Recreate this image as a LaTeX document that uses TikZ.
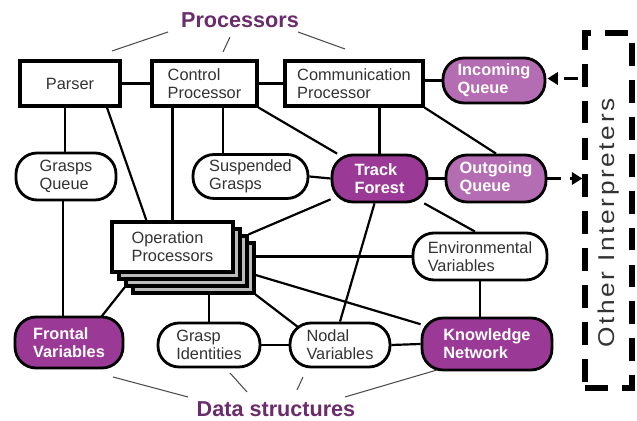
\documentclass[tikz,border=0pt]{standalone}
\usepackage{fontspec}
\setmainfont{Liberation Sans}
\newfontfamily\sidefont[LetterSpace=10]{Liberation Sans}
\usetikzlibrary{calc,backgrounds,arrows.meta}

\definecolor{deeppurple}{HTML}{9B3A96}
\definecolor{softpurple}{HTML}{B46CB2}
\definecolor{titlepurple}{HTML}{6A2C6A}
\definecolor{inktext}{HTML}{333333}
\definecolor{stackgray}{HTML}{BBBBBB}

\tikzset{
  procbox/.style={draw=black, line width=1.8pt, fill=white, align=left,
    inner sep=1pt, text=inktext, font=\fontsize{9.3}{10.4}\selectfont},
  storepill/.style={draw=black, line width=1.6pt, fill=white, align=left,
    rounded corners=12pt, inner sep=1pt, text=inktext,
    font=\fontsize{9.3}{10.4}\selectfont},
  hotpill/.style={storepill, fill=deeppurple, text=white,
    font=\bfseries\fontsize{9.3}{10.4}\selectfont},
  queuepill/.style={hotpill, fill=softpurple},
  link/.style={line width=1.25pt, draw=black},
  pointer/.style={line width=0.6pt, draw=black!70},
  grouptitle/.style={text=titlepurple, font=\bfseries\fontsize{12.3}{14}\selectfont},
  remote/.style={draw=black, line width=3pt, dash pattern=on 13pt off 8pt},
  feed/.style={line width=2pt, dash pattern=on 8pt off 5pt,
    -{Triangle[length=6pt,width=7pt]}},
}

\begin{document}
\begin{tikzpicture}[x=0.02cm, y=-0.02cm]
\useasboundingbox (0,0) rectangle (637,421);

% processors
\node[procbox, minimum width=2cm, minimum height=0.9cm] (parser) at (70,83.5) {Parser};
\node[procbox, minimum width=2.1cm, minimum height=0.9cm] (cp) at (204.5,83.5) {Control\\Processor};
\node[procbox, minimum width=2.76cm, minimum height=0.9cm] (comm) at (354,83.5) {Communication\\Processor};

% stacked operation processors
\node[procbox, fill=stackgray, minimum width=2.42cm, minimum height=1cm] (op3) at (193.5,268) {};
\node[procbox, fill=stackgray, minimum width=2.42cm, minimum height=1cm] (op2) at (186.5,261) {};
\node[procbox, fill=stackgray, minimum width=2.42cm, minimum height=1cm] (op1) at (179.5,254) {};
\node[procbox, minimum width=2.42cm, minimum height=1cm] (op) at (172.5,247) {Operation\\Processors};

% queues and data structures
\node[queuepill, minimum width=2.04cm, minimum height=0.9cm] (inq) at (494,80.5) {Incoming\\Queue};
\node[queuepill, minimum width=2cm, minimum height=0.94cm] (ogq) at (496,178.5) {Outgoing\\Queue};
\node[hotpill, minimum width=1.9cm, minimum height=0.94cm] (tf) at (379.5,178.5) {Track\\Forest};
\node[storepill, minimum width=2cm, minimum height=0.94cm] (gq) at (66,176.5) {Grasps\\Queue};
\node[storepill, minimum width=2.3cm, minimum height=0.88cm] (sg) at (250.5,176.5) {Suspended\\Grasps};
\node[storepill, minimum width=2.68cm, minimum height=0.94cm] (env) at (480,256.5) {Environmental\\Variables};
\node[hotpill, minimum width=2.6cm, minimum height=1.04cm] (kn) at (487,344) {Knowledge\\Network};
\node[storepill, minimum width=2cm, minimum height=0.88cm] (nv) at (340,345) {Nodal\\Variables};
\node[storepill, minimum width=2.04cm, minimum height=0.88cm] (gi) at (209,345) {Grasp\\Identities};
\node[hotpill, minimum width=2.16cm, minimum height=1.02cm] (fv) at (69,342.5) {Frontal\\Variables};

% group titles
\node[grouptitle] (proc) at (240,20) {Processors};
\node[grouptitle] (ds) at (276,409) {Data structures};

% other interpreters
\node[remote, minimum width=0.94cm, minimum height=7.1cm] (oi) at (608.5,210.5) {};
\node[rotate=90, text=inktext] (oitext) at (609,223)
  {\scalebox{1.15}[1]{\sidefont\fontsize{13}{15}\selectfont Other Interpreters}};

% attachment points for the offset connectors
\coordinate (gqtop) at ($(gq.north)+(-1,0)$);
\coordinate (gqbot) at ($(gq.south)+(-3,0)$);
\coordinate (sgtop) at ($(sg.north)+(-27.5,0)$);

% connectors behind the nodes
\begin{scope}[on background layer]
\draw[link] (parser.east) -- (cp.west);
\draw[link] (cp.east) -- (comm.west);
\draw[link] (inq.west) -- (inq.west -| comm.east);
\draw[link] (gqtop) -- (gqtop |- parser.south);
\draw[link] (gqbot) -- (gqbot |- fv.north);
\draw[link] ($(parser.south)+(37,0)$) -- ($(op.north west)+(36,0)$);
\draw[link] (op.north) -- (op.north |- cp.south);
\draw[link] (sgtop) -- (sgtop |- cp.south);
\draw[link] (cp.south east) -- (tf);
\draw[link] (tf.north) -- (tf.north |- comm.south);
\draw[link] (comm.south east) -- (ogq.north);
\draw[link] (sg.east) -- (tf.west);
\draw[link] (tf.east) -- (ogq.west);
\draw[link] (tf) -- (op2.north east);
\draw[link] ($(tf.south)+(-5,0)$) -- (nv.north);
\draw[link] (tf) -- ($(env.north)+(-5,0)$);
\draw[link] (env.west) -- (env.west -| op3.east);
\draw[link] ($(op3.east)+(0,7)$) -- (kn);
\draw[link] (op3.south east) -- ($(nv)+(-29,-8)$);
\draw[link] (gi.north) -- (gi.north |- op3.south);
\draw[link] (op2.south west) -- ($(fv)+(12,0)$);
\draw[link] (gi.east) -- (nv.west);
\draw[link] (nv.east) -- (kn.west);
\draw[link] (env.south) -- (env.south |- kn.north);
\end{scope}

% pointers from the group titles
\coordinate (p1a) at (112,51);  \coordinate (p1b) at (168,32);
\coordinate (p2a) at (223,52);  \coordinate (p2b) at (230,37);
\coordinate (p3a) at (298,32);  \coordinate (p3b) at (345,49);
\draw[pointer] (p1a) -- (p1b);
\draw[pointer] (p2a) -- (p2b);
\draw[pointer] (p3a) -- (p3b);
\coordinate (d1a) at (113,377); \coordinate (d1b) at (188,397);
\coordinate (d2a) at (230,373); \coordinate (d2b) at (247,392);
\coordinate (d3a) at (303,377); \coordinate (d3b) at (297,390);
\coordinate (d4a) at (437,370); \coordinate (d4b) at (345,397);
\draw[pointer] (d1a) -- (d1b);
\draw[pointer] (d2a) -- (d2b);
\draw[pointer] (d3a) -- (d3b);
\draw[pointer] (d4a) -- (d4b);

% traffic with the other interpreters
\draw[feed] ($(oi.west |- inq)+(-4,-2)$) -- ($(inq.east)+(1,-2)$);
\draw[feed] (ogq.east) -- (ogq.east -| oi.west);
\end{tikzpicture}
\end{document}
